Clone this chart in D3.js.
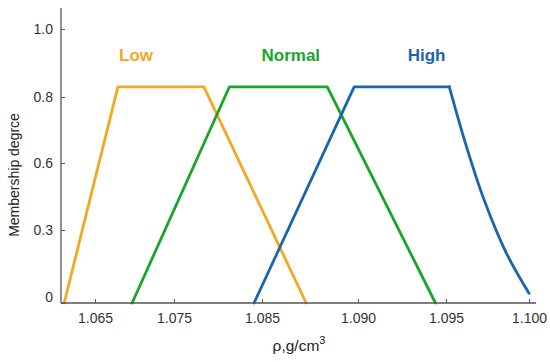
<!DOCTYPE html>
<html>
<head>
<meta charset="utf-8">
<script src="https://cdn.jsdelivr.net/npm/d3@7"></script>
<style>
  body { margin: 0; background: #fff; }
  text { font-family: "Liberation Sans", Arial, sans-serif; }
</style>
</head>
<body>
<svg id="chart" width="550" height="362"></svg>
<script>
// tick values and their labels
const xTicks = [1.065, 1.075, 1.085, 1.090, 1.095, 1.100];
const xTickLabels = ["1.065", "1.075", "1.085", "1.090", "1.095", "1.100"];
const yTicks = [0, 0.3, 0.6, 0.8, 1.0];
const yTickLabels = ["0", "0.3", "0.6", "0.8", "1.0"];

// membership functions, density vs degree
const lowX = [1.0611, 1.0679, 1.0784, 1.0873];
const lowY = [0, 0.83, 0.83, 0];
const normalX = [1.0697, 1.0813, 1.0884, 1.0944];
const normalY = [0, 0.83, 0.83, 0];
const highX = [1.0841, 1.0898, 1.0952];
const highY = [0, 0.83, 0.83];
// the falling side of "High" is a curve
const highTailX = [1.0952, 1.0962, 1.0973, 1.0986, 1.1000];
const highTailY = [0.83, 0.655, 0.434, 0.210, 0.04];

const series = [
  { name: "Low", parts: [[lowX, lowY]], color: "#f5a623", labelX: 1.0702 },
  { name: "Normal", parts: [[normalX, normalY]], color: "#17a62a", labelX: 1.0865 },
  { name: "High", parts: [[highX, highY], [highTailX, highTailY, true]], color: "#1a66ae", labelX: 1.0939 }
];

const svg = d3.select("#chart");
const axisColor = "#555";
const plotLeft = 61, plotBottom = 303, plotTop = 8, plotRight = 536;

// the axes in the figure are not evenly spaced, so map tick to tick
const x = d3.scaleLinear()
  .domain(xTicks)
  .range([95, 174, 262, 358, 446, 529]);

const y = d3.scaleLinear()
  .domain(yTicks)
  .range([303, 230, 163, 97, 29]);

const line = d3.line()
  .x(d => x(d[0]))
  .y(d => y(d[1]));

const curve = d3.line()
  .x(d => x(d[0]))
  .y(d => y(d[1]))
  .curve(d3.curveCatmullRom.alpha(0.5));

series.forEach(s => {
  s.parts.forEach(([xs, ys, smooth]) => {
    svg.append("path")
      .datum(xs.map((v, i) => [v, ys[i]]))
      .attr("d", smooth ? curve : line)
      .attr("fill", "none")
      .attr("stroke", s.color)
      .attr("stroke-width", 2.8)
      .attr("stroke-linejoin", "round")
      .attr("stroke-linecap", "round");
  });

  svg.append("text")
    .attr("x", x(s.labelX))
    .attr("y", 61)
    .attr("text-anchor", "middle")
    .attr("font-size", 17)
    .attr("font-weight", "bold")
    .attr("fill", s.color)
    .text(s.name);
});

// axes
const xAxis = d3.axisBottom(x)
  .tickValues(xTicks)
  .tickFormat((d, i) => xTickLabels[i])
  .tickSizeInner(-4)
  .tickSizeOuter(0)
  .tickPadding(10);

const yAxis = d3.axisLeft(y)
  .tickValues(yTicks)
  .tickFormat((d, i) => yTickLabels[i])
  .tickSizeInner(-4)
  .tickSizeOuter(0)
  .tickPadding(8);

const gx = svg.append("g")
  .attr("transform", `translate(0,${plotBottom})`)
  .call(xAxis);

const gy = svg.append("g")
  .attr("transform", `translate(${plotLeft},0)`)
  .call(yAxis);

[gx, gy].forEach(g => {
  g.select(".domain").remove();
  g.selectAll(".tick line").attr("stroke", axisColor);
  g.selectAll(".tick text")
    .attr("font-size", 14)
    .attr("fill", "#333")
    .style("font-family", "'Liberation Sans', Arial, sans-serif");
});

// the zero label sits a little above the axis line
gy.selectAll(".tick text").filter(d => d === 0).attr("y", -6);

svg.append("line")
  .attr("x1", plotLeft).attr("x2", plotLeft)
  .attr("y1", plotTop).attr("y2", plotBottom)
  .attr("stroke", axisColor).attr("stroke-width", 1.3);

svg.append("line")
  .attr("x1", plotLeft).attr("x2", plotRight)
  .attr("y1", plotBottom).attr("y2", plotBottom)
  .attr("stroke", axisColor).attr("stroke-width", 1.3);

// titles
svg.append("text")
  .attr("transform", "translate(19,175) rotate(-90)")
  .attr("text-anchor", "middle")
  .attr("font-size", 14)
  .attr("fill", "#222")
  .text("Membership degrce");

const xt = svg.append("text")
  .attr("x", 299)
  .attr("y", 351)
  .attr("text-anchor", "middle")
  .attr("font-size", 15.5)
  .attr("fill", "#222");
xt.append("tspan").text("ρ,g/cm");
xt.append("tspan").attr("font-size", 11).attr("dy", -7).text("3");
</script>
</body>
</html>
